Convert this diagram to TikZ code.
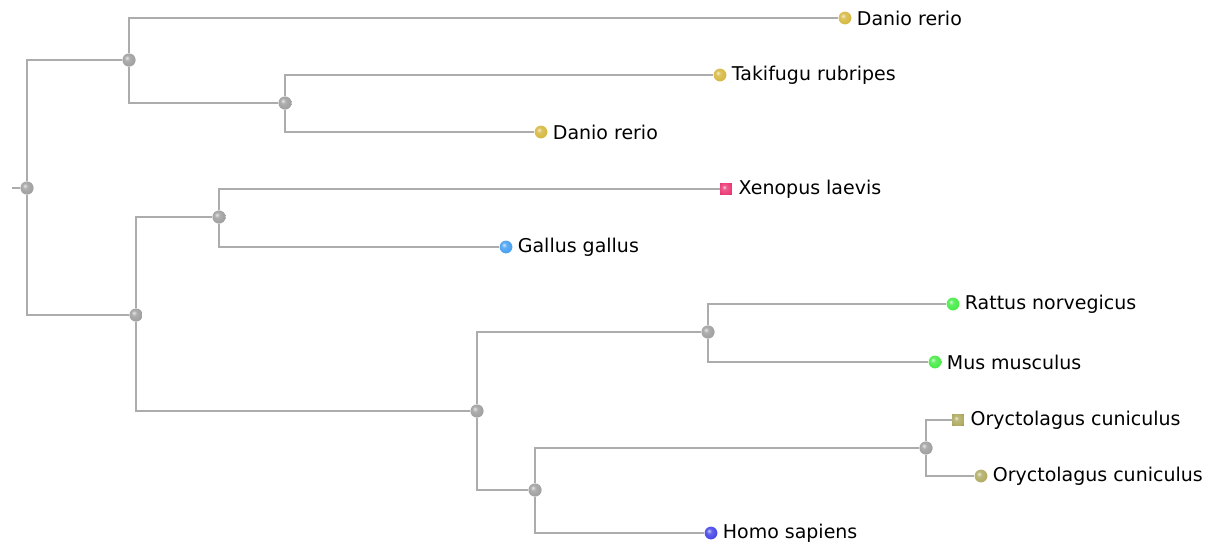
\documentclass[tikz,border=0pt]{standalone}
\usepackage{fontspec}
\setmainfont{DejaVu Sans}
\usetikzlibrary{positioning}
\definecolor{fishc}{RGB}{214,184,64}
\definecolor{frogc}{RGB}{236,60,120}
\definecolor{birdc}{RGB}{70,160,240}
\definecolor{rodentc}{RGB}{70,235,70}
\definecolor{rabbitc}{RGB}{176,172,100}
\definecolor{humanc}{RGB}{70,70,232}
\definecolor{branchc}{RGB}{172,172,172}
% a softer ball: light highlight, only slightly darker rim
\makeatletter
\pgfdeclareradialshading[tikz@ball]{knob}{\pgfpoint{-9bp}{9bp}}{%
  color(0bp)=(tikz@ball!25!white);
  color(10bp)=(tikz@ball!85!white);
  color(28bp)=(tikz@ball);
  color(50bp)=(tikz@ball!70!black)}
\tikzset{
  knob color/.code={%
    \pgfutil@colorlet{tikz@ball}{#1}%
    \def\tikz@shading{knob}%
    \tikz@addmode{\tikz@mode@shadetrue}%
  }
}
\makeatother
\tikzset{
  inner/.style={
    inner sep = 0pt,
    shape = circle,
    minimum size = 0.33cm,
    knob color = gray!75
  },
  leaf/.style={
    inner sep = 0pt,
    shape = circle,
    minimum size = 0.32cm
  },
  leafsq/.style={
    inner sep = 0pt,
    shape = rectangle,
    minimum size = 0.29cm
  },
  branch/.style={
    draw = branchc,
    line width = 1.4pt
  },
  taxon/.style={
    anchor = west,
    font = \fontsize{13.5}{15}\selectfont,
    inner sep = 1pt
  }
}

\begin{document}
\begin{tikzpicture}[x=0.025cm, y=-0.025cm]
    \useasboundingbox (0,0) rectangle (1209,548);
    % internal splits
    \node[inner] (root) at (27,188) {};
    \node[inner] (fish) at (129,60) {};
    \node[inner] (fish2) at (285,103) {};
    \node[inner] (tetra) at (136,315) {};
    \node[inner] (amph) at (219,217) {};
    \node[inner] (mamm) at (477,411) {};
    \node[inner] (rod) at (708,332) {};
    \node[inner] (prim) at (535,490) {};
    \node[inner] (lago) at (926,448) {};
    \coordinate (stub) at (12,188);
    % leaves
    \foreach \name/\x/\y/\col/\txt in {
        danioA/845/18/fishc/Danio rerio,
        taki/720/75/fishc/Takifugu rubripes,
        danioB/541/132/fishc/Danio rerio,
        gallus/506/247/birdc/Gallus gallus,
        rattus/953/304/rodentc/Rattus norvegicus,
        mus/935/362/rodentc/Mus musculus,
        orycB/981/476/rabbitc/Oryctolagus cuniculus,
        homo/711/533/humanc/Homo sapiens}{
        \node[leaf, knob color=\col] (\name) at (\x,\y) {};
        \node[taxon, right=2.5pt of \name] (\name-l) {\txt};
    }
    \foreach \name/\x/\y/\col/\txt in {
        xeno/726/189/frogc/Xenopus laevis,
        orycA/958/420/rabbitc/Oryctolagus cuniculus}{
        \node[leafsq, knob color=\col] (\name) at (\x,\y) {};
        \node[taxon, right=3.5pt of \name] (\name-l) {\txt};
    }
    % branches
    \draw[branch] (stub) -- (root);
    \foreach \p/\c in {root/fish, root/tetra, fish/danioA, fish/fish2,
        fish2/taki, fish2/danioB, tetra/amph, tetra/mamm, amph/xeno,
        amph/gallus, mamm/rod, mamm/prim, rod/rattus, rod/mus,
        prim/lago, prim/homo, lago/orycA, lago/orycB}{
        \draw[branch] (\p) |- (\c);
    }
\end{tikzpicture}
\end{document}
